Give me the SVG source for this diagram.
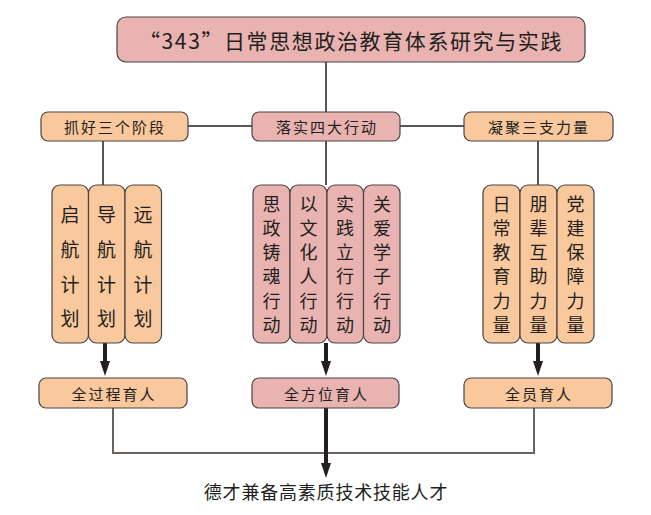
<svg xmlns="http://www.w3.org/2000/svg" width="651" height="515" viewBox="0 0 651 515">
<style>
  .pk{fill:#e9b3b1;stroke:#4a4444;stroke-width:1.2}
  .or{fill:#f9c89c;stroke:#4a4444;stroke-width:1.2}
  text{font-family:"Noto Sans CJK SC","Noto Sans",sans-serif;fill:#231f20;text-anchor:middle;dominant-baseline:central}
  .t1{font-size:21px;letter-spacing:1.6px}
  .t2{font-size:15px;letter-spacing:2px}
  .v1{font-size:19px}
  .v2{font-size:18px}
  .ln{fill:none;stroke:#231f20;stroke-width:1.5}
  .gl{fill:none;stroke:#6b6360;stroke-width:2}
  .th{fill:none;stroke:#231f20;stroke-width:4}
</style>
<defs>
  <marker id="ah" viewBox="0 0 10 12" refX="5" refY="12" markerWidth="10" markerHeight="12" markerUnits="userSpaceOnUse" orient="auto-start-reverse">
    <path d="M0,0 L10,0 L5,12 Z" fill="#231f20"/>
  </marker>
</defs>
<g id="connectors">
  <path class="ln" d="M326,62 V112 M326,141 V185 M188,126 H252 M400,126 H464 M103,141 V185 M538,141 V185"/>
  <path class="gl" d="M113,408 V453 H534 V408"/>
  <line class="th" x1="105" y1="343" x2="105" y2="362"/>
  <path d="M100,361 L110,361 L105,376 Z" fill="#231f20"/>
  <line class="th" x1="326" y1="343" x2="326" y2="362"/>
  <path d="M321,361 L331,361 L326,376 Z" fill="#231f20"/>
  <line class="th" x1="538" y1="343" x2="538" y2="362"/>
  <path d="M533,361 L543,361 L538,376 Z" fill="#231f20"/>
  <line class="th" x1="326" y1="408" x2="326" y2="464"/>
  <path d="M321,463 L331,463 L326,478 Z" fill="#231f20"/>
</g>
<g id="title">
  <rect class="pk" x="117" y="17" width="468" height="45" rx="9"/>
  <text class="t1" x="351" y="39.5">“343”日常思想政治教育体系研究与实践</text>
</g>
<g id="stage">
  <rect class="or" x="41" y="112" width="147" height="29" rx="7"/>
  <text class="t2" x="115" y="126.5">抓好三个阶段</text>
</g>
<g id="action">
  <rect class="pk" x="252" y="112" width="148" height="29" rx="7"/>
  <text class="t2" x="327" y="126.5">落实四大行动</text>
</g>
<g id="force">
  <rect class="or" x="464" y="112" width="149" height="29" rx="7"/>
  <text class="t2" x="539" y="126.5">凝聚三支力量</text>
</g>
<g id="plan1">
  <rect class="or" x="52" y="185" width="36.5" height="158" rx="8"/>
  <text class="v1"><tspan x="70" y="213">启</tspan><tspan x="70" y="248">航</tspan><tspan x="70" y="283">计</tspan><tspan x="70" y="317">划</tspan></text>
</g>
<g id="plan2">
  <rect class="or" x="88.5" y="185" width="36.5" height="158" rx="8"/>
  <text class="v1"><tspan x="106.5" y="213">导</tspan><tspan x="106.5" y="248">航</tspan><tspan x="106.5" y="283">计</tspan><tspan x="106.5" y="317">划</tspan></text>
</g>
<g id="plan3">
  <rect class="or" x="125" y="185" width="36.5" height="158" rx="8"/>
  <text class="v1"><tspan x="143" y="213">远</tspan><tspan x="143" y="248">航</tspan><tspan x="143" y="283">计</tspan><tspan x="143" y="317">划</tspan></text>
</g>
<g id="act1">
  <rect class="pk" x="253" y="185" width="37" height="158" rx="8"/>
  <text class="v2"><tspan x="271.5" y="203">思</tspan><tspan x="271.5" y="227">政</tspan><tspan x="271.5" y="251">铸</tspan><tspan x="271.5" y="275">魂</tspan><tspan x="271.5" y="300">行</tspan><tspan x="271.5" y="324">动</tspan></text>
</g>
<g id="act2">
  <rect class="pk" x="290" y="185" width="37" height="158" rx="8"/>
  <text class="v2"><tspan x="308.5" y="203">以</tspan><tspan x="308.5" y="227">文</tspan><tspan x="308.5" y="251">化</tspan><tspan x="308.5" y="275">人</tspan><tspan x="308.5" y="300">行</tspan><tspan x="308.5" y="324">动</tspan></text>
</g>
<g id="act3">
  <rect class="pk" x="327" y="185" width="36.5" height="158" rx="8"/>
  <text class="v2"><tspan x="345" y="203">实</tspan><tspan x="345" y="227">践</tspan><tspan x="345" y="251">立</tspan><tspan x="345" y="275">行</tspan><tspan x="345" y="300">行</tspan><tspan x="345" y="324">动</tspan></text>
</g>
<g id="act4">
  <rect class="pk" x="363.5" y="185" width="36.5" height="158" rx="8"/>
  <text class="v2"><tspan x="382" y="203">关</tspan><tspan x="382" y="227">爱</tspan><tspan x="382" y="251">学</tspan><tspan x="382" y="275">子</tspan><tspan x="382" y="300">行</tspan><tspan x="382" y="324">动</tspan></text>
</g>
<g id="force1">
  <rect class="or" x="483" y="185" width="37" height="158" rx="8"/>
  <text class="v2"><tspan x="501.5" y="203">日</tspan><tspan x="501.5" y="227">常</tspan><tspan x="501.5" y="251">教</tspan><tspan x="501.5" y="275">育</tspan><tspan x="501.5" y="300">力</tspan><tspan x="501.5" y="324">量</tspan></text>
</g>
<g id="force2">
  <rect class="or" x="520" y="185" width="37" height="158" rx="8"/>
  <text class="v2"><tspan x="538.5" y="203">朋</tspan><tspan x="538.5" y="227">辈</tspan><tspan x="538.5" y="251">互</tspan><tspan x="538.5" y="275">助</tspan><tspan x="538.5" y="300">力</tspan><tspan x="538.5" y="324">量</tspan></text>
</g>
<g id="force3">
  <rect class="or" x="557" y="185" width="37" height="158" rx="8"/>
  <text class="v2"><tspan x="575.5" y="203">党</tspan><tspan x="575.5" y="227">建</tspan><tspan x="575.5" y="251">保</tspan><tspan x="575.5" y="275">障</tspan><tspan x="575.5" y="300">力</tspan><tspan x="575.5" y="324">量</tspan></text>
</g>
<g id="whole-process">
  <rect class="or" x="39" y="378" width="148" height="30" rx="7"/>
  <text class="t2" x="114" y="393">全过程育人</text>
</g>
<g id="all-round">
  <rect class="pk" x="252" y="378" width="147" height="30" rx="7"/>
  <text class="t2" x="326.5" y="393">全方位育人</text>
</g>
<g id="all-staff">
  <rect class="or" x="464" y="378" width="148" height="30" rx="7"/>
  <text class="t2" x="539" y="393">全员育人</text>
</g>
<g id="goal">
  <text x="326" y="491" style="font-size:18px;letter-spacing:0.8px">德才兼备高素质技术技能人才</text>
</g>
</svg>
